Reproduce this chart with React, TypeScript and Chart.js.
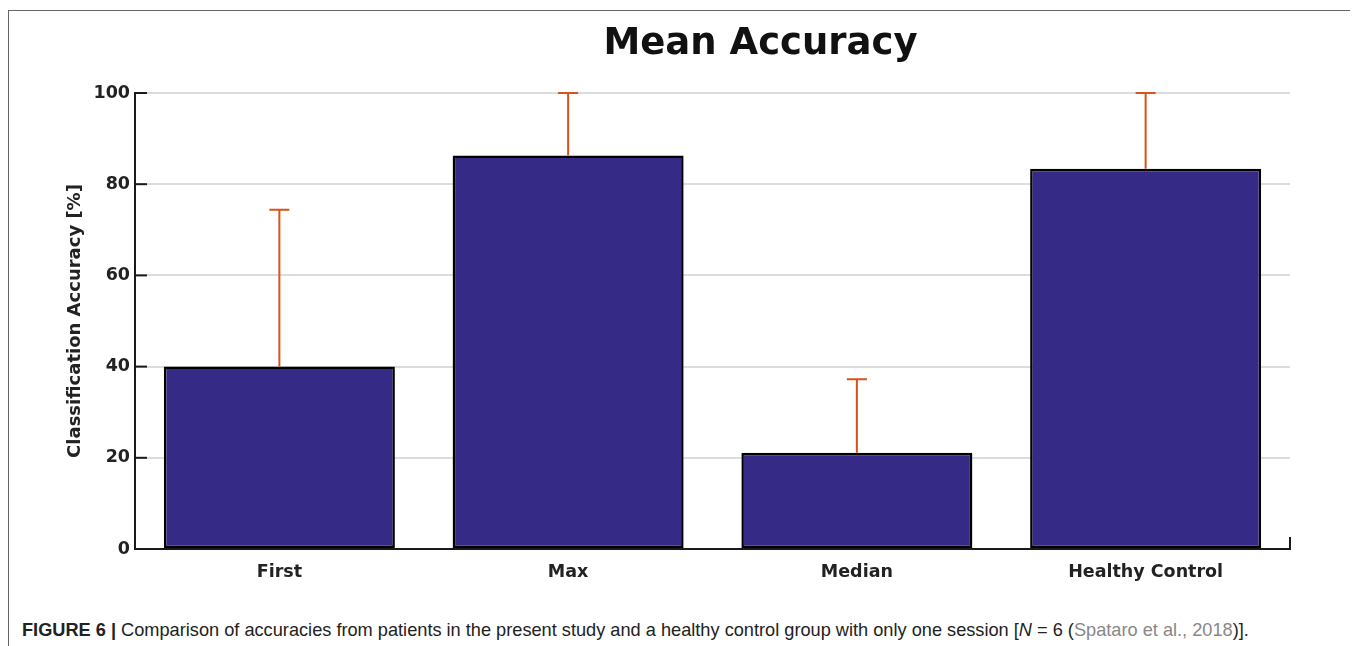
import React, { useEffect, useRef } from "react";
import { Chart, registerables } from "chart.js";

Chart.register(...registerables);

const categories = ["First", "Max", "Median", "Healthy Control"];
const meanAccuracy = [40.0, 86.3, 21.1, 83.4];
const upperError = [74.4, 100, 37.2, 100];
const yTickValues = [0, 20, 40, 60, 80, 100];
const chartTitle = "Mean Accuracy";
const yAxisTitle = "Classification Accuracy [%]";

const FONT = "'DejaVu Sans', Verdana, sans-serif";
const BAR_COLOR = "#352A86";
const ERR_COLOR = "#D95319";
const AXIS_COLOR = "#1a1a1a";

const errorBarPlugin = {
  id: "errorBars",
  afterDatasetsDraw(chart: any) {
    const meta = chart.getDatasetMeta(0);
    const y = chart.scales.y;
    const ctx = chart.ctx;
    ctx.save();
    ctx.strokeStyle = ERR_COLOR;
    ctx.lineWidth = 2;
    meta.data.forEach((el: any, i: number) => {
      const x = el.x;
      const yb = el.y;
      const yt = y.getPixelForValue(upperError[i]);
      ctx.beginPath();
      ctx.moveTo(x, yb);
      ctx.lineTo(x, yt);
      ctx.moveTo(x - 10, yt);
      ctx.lineTo(x + 10, yt);
      ctx.stroke();
    });
    ctx.restore();
  },
};

const decorPlugin = {
  id: "decor",
  afterDraw(chart: any) {
    const ctx = chart.ctx;
    const { left, right, bottom } = chart.chartArea;
    const y = chart.scales.y;
    ctx.save();
    ctx.strokeStyle = AXIS_COLOR;
    ctx.lineWidth = 2;
    // inward ticks on y axis
    yTickValues.forEach((v) => {
      const py = y.getPixelForValue(v);
      ctx.beginPath();
      ctx.moveTo(left, py);
      ctx.lineTo(left + 12, py);
      ctx.stroke();
    });
    // right end tick on x axis
    ctx.beginPath();
    ctx.moveTo(right, bottom);
    ctx.lineTo(right, bottom - 12);
    ctx.stroke();
    // title
    ctx.fillStyle = "#111";
    ctx.font = `bold 37px ${FONT}`;
    ctx.textAlign = "center";
    ctx.textBaseline = "middle";
    ctx.fillText(chartTitle, (left + right) / 2 + 48, 33);
    ctx.restore();
  },
};

export default function App() {
  const canvasRef = useRef<HTMLCanvasElement>(null);

  useEffect(() => {
    if (!canvasRef.current) return;
    const chart = new Chart(canvasRef.current, {
      type: "bar",
      data: {
        labels: categories,
        datasets: [
          {
            data: meanAccuracy,
            backgroundColor: BAR_COLOR,
            borderColor: "#000",
            borderWidth: 2.5,
            borderSkipped: false,
            barPercentage: 0.8,
            categoryPercentage: 1,
          },
        ],
      },
      options: {
        animation: false,
        responsive: false,
        maintainAspectRatio: false,
        layout: { padding: { left: 0, right: 65, top: 82, bottom: 12 } },
        plugins: {
          legend: { display: false },
          title: { display: false },
          tooltip: { enabled: false },
        },
        scales: {
          x: {
            grid: { display: false, drawTicks: false },
            border: { display: true, color: AXIS_COLOR, width: 2 },
            ticks: {
              color: "#222",
              padding: 13,
              font: { family: FONT, size: 17.5, weight: "bold" },
            },
            afterFit(scale: any) {
              scale.height = 50;
            },
          },
          y: {
            min: 0,
            max: 100,
            afterBuildTicks(scale: any) {
              scale.ticks = yTickValues.map((v) => ({ value: v }));
            },
            grid: { color: "#dcdcdc", lineWidth: 2, drawTicks: false },
            border: { display: true, color: AXIS_COLOR, width: 2 },
            ticks: {
              color: "#222",
              padding: 5,
              font: { family: FONT, size: 17.5, weight: "bold" },
            },
            title: {
              display: true,
              text: yAxisTitle,
              color: "#222",
              font: { family: FONT, size: 18, weight: "bold" },
              padding: { top: 56, bottom: 0 },
            },
            afterFit(scale: any) {
              scale.width = 126;
            },
          },
        },
      },
      plugins: [errorBarPlugin, decorPlugin],
    });
    return () => chart.destroy();
  }, []);

  return (
    <div
      style={{
        position: "relative",
        top: 2,
        width: 1346,
        height: 660,
        border: "1px solid #666",
        background: "#fff",
      }}
    >
      <canvas ref={canvasRef} width={1346} height={600} style={{ display: "block" }} />
      <div
        style={{
          position: "absolute",
          left: 13,
          top: 608,
          fontFamily: "'Liberation Sans', Arial, sans-serif",
          fontSize: 18.2,
          lineHeight: "22px",
          color: "#222",
          whiteSpace: "nowrap",
        }}
      >
        <b>FIGURE 6 |</b> Comparison of accuracies from patients in the present study and a healthy
        control group with only one session [<i>N</i> = 6 (
        <span style={{ color: "#888" }}>Spataro et al., 2018</span>)].
      </div>
    </div>
  );
}
